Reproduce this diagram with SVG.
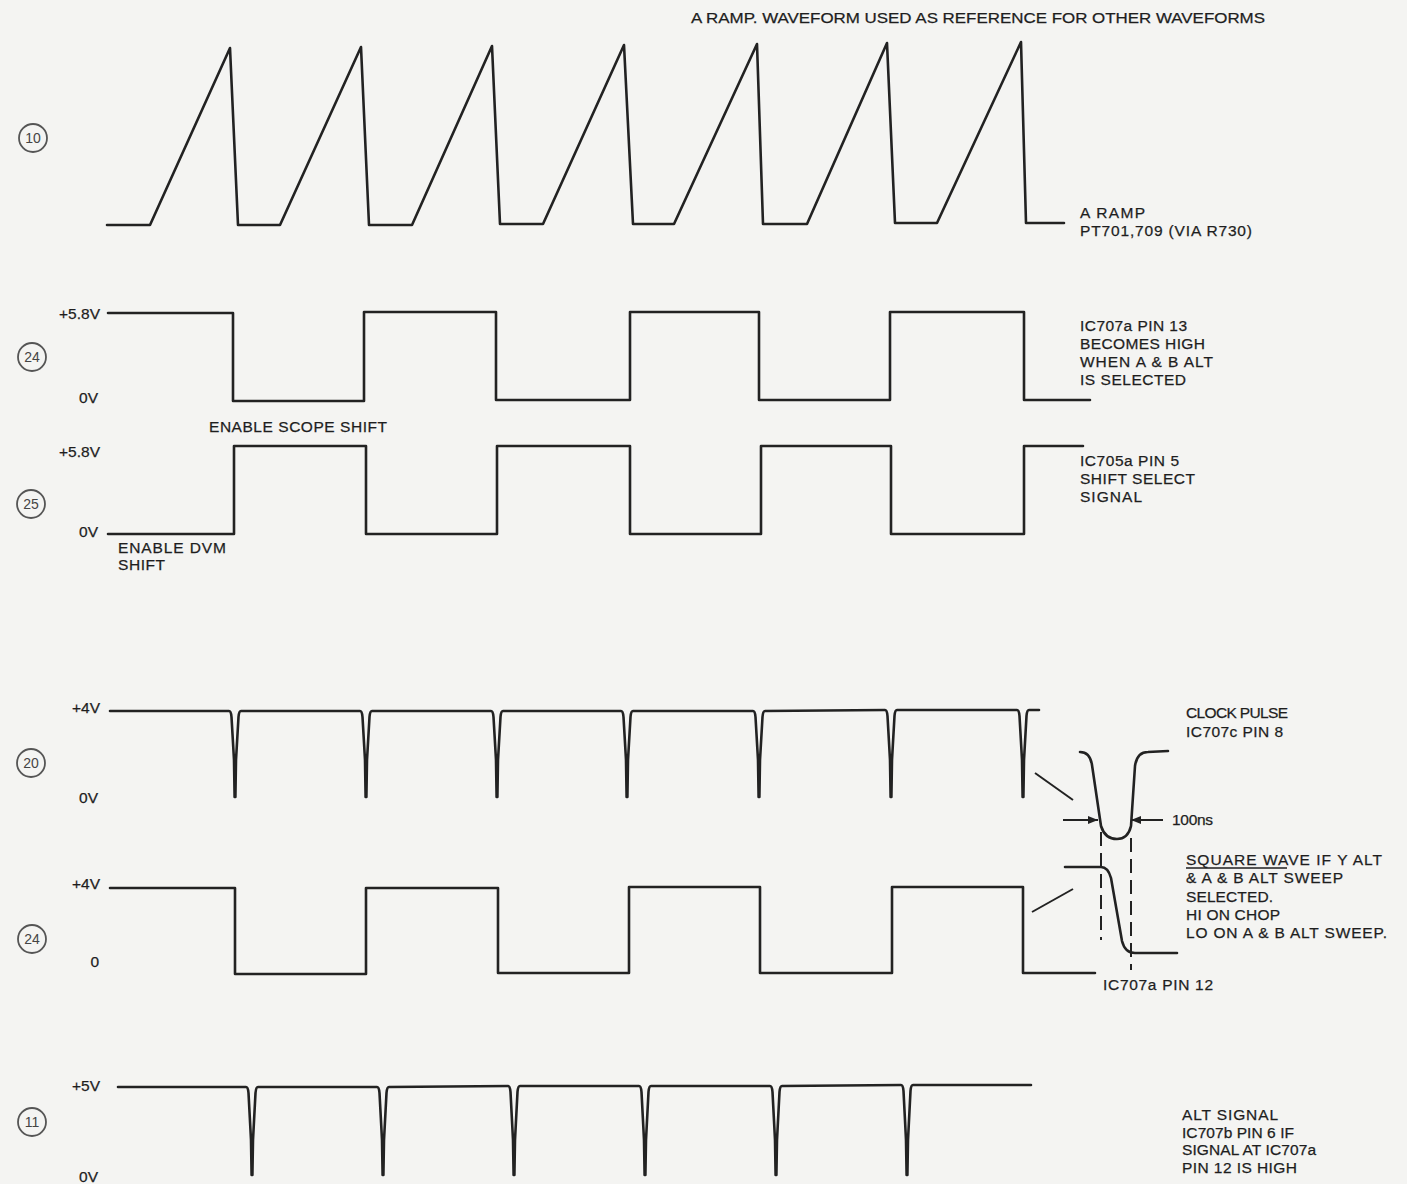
<svg xmlns="http://www.w3.org/2000/svg" width="1407" height="1184" viewBox="0 0 1407 1184">
<defs>
<style>
.w{fill:none;stroke:#222;stroke-width:2.6;stroke-linejoin:round;stroke-linecap:round}
.t{font-family:"Liberation Sans",Arial,sans-serif;font-size:15.5px;fill:#1e1e1e;stroke:#1e1e1e;stroke-width:0.25}
.l{font-family:"Liberation Sans",Arial,sans-serif;font-size:15.5px;fill:#1e1e1e;stroke:#1e1e1e;stroke-width:0.25;text-anchor:end}
.c{fill:none;stroke:#555;stroke-width:1.8}
.cn{font-family:"Liberation Sans",Arial,sans-serif;font-size:14px;fill:#444;text-anchor:middle}
.thin{fill:none;stroke:#222;stroke-width:2}
.dash{fill:none;stroke:#222;stroke-width:2;stroke-dasharray:14 7}
</style>
<marker id="ah" viewBox="0 0 10 8" refX="10" refY="4" markerWidth="10" markerHeight="8" markerUnits="userSpaceOnUse" orient="auto">
<path d="M0,0 L10,4 L0,8 Z" fill="#222"/>
</marker>
</defs>
<rect width="1407" height="1184" fill="#f4f4f2"/>

<text class="t" x="691" y="22.5" font-size="16" textLength="574" lengthAdjust="spacingAndGlyphs">A RAMP. WAVEFORM USED AS REFERENCE FOR OTHER WAVEFORMS</text>

<g id="circles">
<g id="c10"><circle class="c" cx="33" cy="138" r="14"/><text class="cn" x="33" y="143">10</text></g>
<g id="c24a"><circle class="c" cx="32" cy="357" r="14"/><text class="cn" x="32" y="362">24</text></g>
<g id="c25"><circle class="c" cx="31" cy="504" r="14"/><text class="cn" x="31" y="509">25</text></g>
<g id="c20"><circle class="c" cx="31" cy="763" r="14"/><text class="cn" x="31" y="768">20</text></g>
<g id="c24b"><circle class="c" cx="32" cy="939" r="14"/><text class="cn" x="32" y="944">24</text></g>
<g id="c11"><circle class="c" cx="32" cy="1122" r="14"/><text class="cn" x="32" y="1127">11</text></g>
</g>

<g id="ramp">
<path class="w" d="M107,225 L150,225 L230,48 L238,225 L280,225 L361,47 L369,225 L412,225 L492,46 L500,224 L543,224 L624,45 L633,224 L674,224 L757,44 L763,224 L807,224 L887,43 L895,223 L937,223 L1021,42 L1026,223 L1064,223"/>
<text class="t" x="1080" y="218" textLength="65" lengthAdjust="spacing">A RAMP</text>
<text class="t" x="1080" y="236" textLength="172" lengthAdjust="spacing">PT701,709 (VIA R730)</text>
</g>

<g id="sq24">
<path class="w" d="M108,313 H233 V401 H364 V312 H496 V400 H630 V312 H759 V400 H890 V312 H1024 V400 H1090"/>
<text class="l" x="100" y="319">+5.8V</text>
<text class="l" x="98" y="403">0V</text>
<text class="t" x="1080" y="331" textLength="107" lengthAdjust="spacing">IC707a PIN 13</text>
<text class="t" x="1080" y="349" textLength="125" lengthAdjust="spacing">BECOMES HIGH</text>
<text class="t" x="1080" y="367" textLength="133" lengthAdjust="spacing">WHEN A &amp; B ALT</text>
<text class="t" x="1080" y="385" textLength="106" lengthAdjust="spacing">IS SELECTED</text>
</g>

<g id="sq25">
<path class="w" d="M108,534 H234 V446 H366 V534 H497 V446 H630 V534 H761 V446 H891 V534 H1024 V446 H1083"/>
<text class="t" x="209" y="432" textLength="178" lengthAdjust="spacing">ENABLE SCOPE SHIFT</text>
<text class="l" x="100" y="457">+5.8V</text>
<text class="l" x="98" y="537">0V</text>
<text class="t" x="118" y="553" textLength="108" lengthAdjust="spacing">ENABLE DVM</text>
<text class="t" x="118" y="570" textLength="47" lengthAdjust="spacing">SHIFT</text>
<text class="t" x="1080" y="466" textLength="99" lengthAdjust="spacing">IC705a PIN 5</text>
<text class="t" x="1080" y="484" textLength="115" lengthAdjust="spacing">SHIFT SELECT</text>
<text class="t" x="1080" y="502" textLength="62" lengthAdjust="spacing">SIGNAL</text>
</g>

<g id="clock20">
<path class="w" d="M110,711 L229,711 Q231,711 231.5,717 L234,760 L234.6,797 L235.4,797 L236,760 L238.5,717 Q239,711 241,711 L360,711 Q362,711 362.5,717 L365,760 L365.6,797 L366.4,797 L367,760 L369.5,717 Q370,711 372,711 L491,711 Q493,711 493.5,717 L496,760 L496.6,797 L497.4,797 L498,760 L500.5,717 Q501,711 503,711 L621,711 Q623,711 623.5,717 L626,760 L626.6,797 L627.4,797 L628,760 L630.5,717 Q631,711 633,711 L753,711 Q755,711 755.5,717 L758,760 L758.6,797 L759.4,797 L760,760 L762.5,717 Q763,711 765,711 L885,710 Q887,710 887.5,716 L890,760 L890.6,797 L891.4,797 L892,760 L894.5,716 Q895,710 897,710 L1017,710 Q1019,710 1019.5,716 L1022,760 L1022.6,797 L1023.4,797 L1024,760 L1026.5,716 Q1027,710 1029,710 L1039,710"/>
<text class="l" x="100" y="713">+4V</text>
<text class="l" x="98" y="803">0V</text>
<text class="t" x="1186" y="718" textLength="102" lengthAdjust="spacing">CLOCK PULSE</text>
<text class="t" x="1186" y="737" textLength="97" lengthAdjust="spacing">IC707c PIN 8</text>
</g>

<g id="sq24b">
<path class="w" d="M110,888 H235 V974 H366 V888 H498 V973 H629 V887 H760 V973 H892 V887 H1023 V973 H1095"/>
<text class="l" x="100" y="889">+4V</text>
<text class="l" x="99" y="967">0</text>
</g>

<g id="inset">
<path class="w" d="M1080,752 Q1090,752 1092,765 L1101,826 Q1105,839 1117,839 Q1128,839 1131,826 L1135,766 Q1137,752 1148,752 L1168,751"/>
<path class="w" d="M1065,867 L1101,867 Q1108,867 1111,878 L1122,941 Q1125,953 1135,953 L1177,953"/>
<line class="thin" x1="1035" y1="773" x2="1073" y2="800"/>
<line class="thin" x1="1032" y1="912" x2="1073" y2="889"/>
<line class="dash" x1="1101" y1="832" x2="1101" y2="940"/>
<line class="dash" x1="1131" y1="838" x2="1131" y2="970"/>
<line class="thin" x1="1063" y1="820" x2="1098" y2="820" marker-end="url(#ah)"/>
<line class="thin" x1="1163" y1="820" x2="1131" y2="820" marker-end="url(#ah)"/>
<text class="t" x="1172" y="825" textLength="41" lengthAdjust="spacing">100ns</text>
<text class="t" x="1103" y="990" textLength="110" lengthAdjust="spacing">IC707a PIN 12</text>
<text class="t" x="1186" y="865" textLength="196" lengthAdjust="spacing">SQUARE WAVE IF Y ALT</text>
<line x1="1186" y1="868" x2="1287" y2="868" stroke="#1e1e1e" stroke-width="1.3"/>
<text class="t" x="1186" y="883" textLength="157" lengthAdjust="spacing">&amp; A &amp; B ALT SWEEP</text>
<text class="t" x="1186" y="902" textLength="87" lengthAdjust="spacing">SELECTED.</text>
<text class="t" x="1186" y="920" textLength="94" lengthAdjust="spacing">HI ON CHOP</text>
<text class="t" x="1186" y="938" textLength="201" lengthAdjust="spacing">LO ON A &amp; B ALT SWEEP.</text>
</g>

<g id="alt11">
<path class="w" d="M118,1087 L246,1087 Q248,1087 248.5,1093 L251,1140 L251.6,1175 L252.4,1175 L253,1140 L255.5,1093 Q256,1087 258,1087 L377,1087 Q379,1087 379.5,1093 L382,1140 L382.6,1175 L383.4,1175 L384,1140 L386.5,1093 Q387,1087 389,1087 L508,1086 Q510,1086 510.5,1092 L513,1140 L513.6,1175 L514.4,1175 L515,1140 L517.5,1092 Q518,1086 520,1086 L639,1086 Q641,1086 641.5,1092 L644,1140 L644.6,1175 L645.4,1175 L646,1140 L648.5,1092 Q649,1086 651,1086 L770,1086 Q772,1086 772.5,1092 L775,1140 L775.6,1175 L776.4,1175 L777,1140 L779.5,1092 Q780,1086 782,1086 L901,1085 Q903,1085 903.5,1091 L906,1140 L906.6,1175 L907.4,1175 L908,1140 L910.5,1091 Q911,1085 913,1085 L1031,1085"/>
<text class="l" x="100" y="1091">+5V</text>
<text class="l" x="98" y="1182">0V</text>
<text class="t" x="1182" y="1120" textLength="96" lengthAdjust="spacing">ALT SIGNAL</text>
<text class="t" x="1182" y="1138" textLength="112" lengthAdjust="spacing">IC707b PIN 6 IF</text>
<text class="t" x="1182" y="1155" textLength="134" lengthAdjust="spacing">SIGNAL AT IC707a</text>
<text class="t" x="1182" y="1173" textLength="115" lengthAdjust="spacing">PIN 12 IS HIGH</text>
</g>
</svg>
